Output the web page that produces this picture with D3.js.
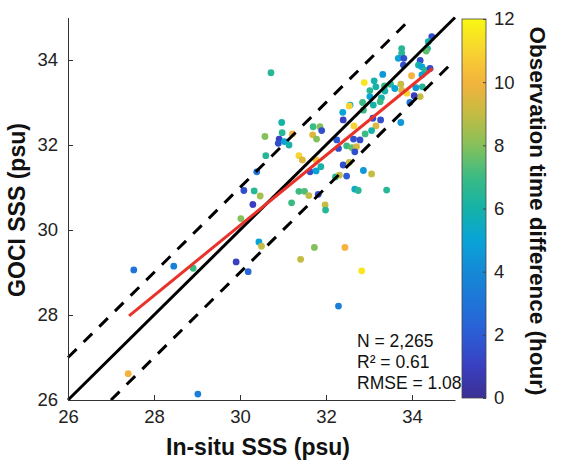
<!DOCTYPE html>
<html>
<head>
<meta charset="utf-8">
<script src="https://cdn.jsdelivr.net/npm/d3@7"></script>
<style>
  html, body { margin: 0; padding: 0; background: #fff; }
  svg { display: block; }
</style>
</head>
<body>
<svg id="chart" width="568" height="468"></svg>
<script>
// ---------------- DATA ----------------
const insituSSS = [27.53,28.46,28.91,29.91,30.19,30.30,30.02,27.40,29.02,30.44,30.50,30.09,30.33,30.47,31.73,32.44,31.41,32.83,32.29,30.60,
  30.39,31.20,31.37,31.50,31.60,31.82,31.98,31.99,31.37,31.45,31.77,31.63,31.77,31.88,32.22,32.31,32.40,30.72,30.97,30.58,
  30.98,30.91,30.89,31.03,31.14,31.22,31.70,31.86,31.90,31.69,31.78,32.39,32.40,32.25,32.29,34.46,34.38,34.36,34.33,33.76,
  33.76,33.68,33.81,33.80,34.19,34.15,34.23,34.30,34.42,34.23,33.99,33.32,32.89,33.12,33.16,33.36,33.50,33.74,33.76,33.60,
  34.09,34.24,34.19,34.05,33.88,33.95,33.37,33.02,33.02,33.29,33.10,33.26,32.85,32.56,32.54,32.87,32.65,33.09,33.16,33.27,
  33.06,32.91,33.74,32.64,32.79,32.48,32.60,32.71,32.67,32.54,32.48,32.87,33.06,32.67,32.75,33.41];
const gociSSS = [29.06,29.15,29.10,29.25,29.02,30.60,30.27,26.62,26.14,29.72,29.62,30.93,30.92,30.80,29.59,29.59,29.31,29.04,28.21,31.75,
  31.37,30.64,30.91,30.91,30.81,30.84,30.59,30.47,31.75,31.65,31.65,31.37,31.39,31.49,31.25,31.29,31.53,33.70,32.53,32.20,
  32.29,32.14,32.04,32.08,32.00,32.26,32.43,32.43,32.34,32.24,32.14,32.77,32.59,32.12,31.92,34.55,34.43,34.27,34.21,34.27,
  34.16,34.04,34.04,33.88,33.99,33.88,33.84,33.76,33.80,33.65,33.63,33.66,33.47,33.51,33.37,33.39,33.43,33.43,33.29,33.33,
  33.35,33.37,33.14,33.16,33.22,33.00,33.27,33.14,33.28,33.11,32.94,33.02,33.00,32.94,32.92,32.82,32.45,32.63,32.45,32.59,
  32.34,32.26,32.53,32.14,32.12,31.98,31.94,31.96,31.84,31.59,31.27,31.40,31.32,30.96,30.93,30.94];
const timeDiff = [3,3.5,7,1,2.5,1,8,10,3.5,5,9,1.5,6.5,8.5,8,10,9,11.5,3.5,6.5,
  3,7,7,7.3,9,1.5,9,6.5,11,9.5,10.5,1.5,5,6,6.5,9,1.5,6.5,6,8,
  6.5,1,1.5,5,6,10,7,8,1.5,9.5,8,5,1,2,1.5,1.5,6,6.5,7.5,6.5,
  6.5,5,1.5,1.5,1.5,6,5,6.5,1.5,5,10,4.5,11.5,6,6,7,6.5,9,9.5,5,
  4.5,6.5,9,1,11,3,6,5,6.5,6,6,7,7,5,11,7,11,1.5,9.5,1.5,
  6,7,4.5,1.5,1.5,7,7.5,9.5,1.5,9,2,4.5,9,5.5,6.5,6.5];

const axisDomain = [26, 35];
const axisTicks = [26, 28, 30, 32, 34];
const lineOffsets = [-1, 1];              // dashed ±1 psu lines
const regX = [27.42, 34.48];             // regression line ends
const regY = [27.98, 33.80];
const cbarDomain = [0, 12];
const cbarTicks = [0, 2, 4, 6, 8, 10, 12];
// parula-like colormap anchors, one per hour 0..12
const parulaColors = ["#3b2f93","#3a3fc0","#2c5cd6","#1f74d8","#1589d6","#08a4d8","#15b2a8",
                      "#3bbb84","#86c05a","#c4bc43","#f5b23c","#f7d431","#f8f811"];
const statsLines = ["N = 2,265", "R\u00B2 = 0.61", "RMSE = 1.08"];
const xLabel = "In-situ SSS (psu)";
const yLabel = "GOCI SSS (psu)";
const cbarLabel = "Observation time difference (hour)";

// ---------------- LAYOUT ----------------
const svg = d3.select("#chart");
const plot = {left: 68, right: 455, top: 17.5, bottom: 400};
const x = d3.scaleLinear().domain(axisDomain).range([plot.left, plot.right]);
const y = d3.scaleLinear().domain(axisDomain).range([plot.bottom, plot.top]);
const color = d3.scaleLinear()
  .domain(d3.range(parulaColors.length).map(i => cbarDomain[0] + i * (cbarDomain[1] - cbarDomain[0]) / (parulaColors.length - 1)))
  .range(parulaColors).clamp(true);

const axisColor = "#333";
const tickFont = "'Liberation Sans', Arial, sans-serif";

// points
const pts = insituSSS.map((v, i) => ({x: v, y: gociSSS[i], t: timeDiff[i]}));
svg.append("g").selectAll("circle").data(pts).join("circle")
  .attr("cx", d => x(d.x)).attr("cy", d => y(d.y)).attr("r", 3.4)
  .attr("fill", d => color(d.t));

// dashed lines
lineOffsets.forEach(o => {
  const x0 = Math.max(axisDomain[0], axisDomain[0] - o), x1 = Math.min(axisDomain[1], axisDomain[1] - o);
  svg.append("line")
    .attr("x1", x(x0)).attr("y1", y(x0 + o)).attr("x2", x(x1)).attr("y2", y(x1 + o))
    .attr("stroke", "#000").attr("stroke-width", 3).attr("stroke-dasharray", "12,10");
});
// 1:1 line
svg.append("line")
  .attr("x1", x(axisDomain[0])).attr("y1", y(axisDomain[0]))
  .attr("x2", x(axisDomain[1])).attr("y2", y(axisDomain[1]))
  .attr("stroke", "#000").attr("stroke-width", 3);
// regression line
svg.append("line")
  .attr("x1", x(regX[0])).attr("y1", y(regY[0]))
  .attr("x2", x(regX[1])).attr("y2", y(regY[1]))
  .attr("stroke", "#e8322a").attr("stroke-width", 3);

// axes
const xAxis = svg.append("g").attr("transform", `translate(0,${plot.bottom})`)
  .call(d3.axisBottom(x).tickValues(axisTicks).tickSize(-5).tickPadding(10).tickSizeOuter(0));
const yAxis = svg.append("g").attr("transform", `translate(${plot.left},0)`)
  .call(d3.axisLeft(y).tickValues(axisTicks).tickSize(-5).tickPadding(10).tickSizeOuter(0));
[xAxis, yAxis].forEach(g => {
  g.select(".domain").attr("stroke", axisColor).attr("stroke-width", 1);
  g.selectAll(".tick line").attr("stroke", axisColor);
  g.selectAll(".tick text").attr("font-family", tickFont).attr("font-size", 18.5).attr("fill", "#222");
});

// axis titles
svg.append("text").attr("x", 258).attr("y", 455).attr("text-anchor", "middle")
  .attr("font-family", tickFont).attr("font-weight", "bold").attr("font-size", 23).attr("fill", "#111")
  .text(xLabel);
svg.append("text").attr("transform", "translate(25,210) rotate(-90)").attr("text-anchor", "middle")
  .attr("font-family", tickFont).attr("font-weight", "bold").attr("font-size", 23).attr("fill", "#111")
  .text(yLabel);

// stats text
svg.append("g").selectAll("text").data(statsLines).join("text")
  .attr("x", 357).attr("y", (d, i) => 347 + i * 21)
  .attr("font-family", tickFont).attr("font-size", 17.5).attr("fill", "#111")
  .text(d => d);

// colorbar
const cb = {left: 462, right: 486, top: 19, bottom: 398};
const cy = d3.scaleLinear().domain(cbarDomain).range([cb.bottom, cb.top]);
const defs = svg.append("defs");
const grad = defs.append("linearGradient").attr("id", "parula")
  .attr("x1", 0).attr("y1", 1).attr("x2", 0).attr("y2", 0);
d3.range(0, 1.0001, 0.025).forEach(f => {
  grad.append("stop").attr("offset", f).attr("stop-color", color(cbarDomain[0] + f * (cbarDomain[1] - cbarDomain[0])));
});
svg.append("rect").attr("x", cb.left).attr("y", cb.top)
  .attr("width", cb.right - cb.left).attr("height", cb.bottom - cb.top)
  .attr("fill", "url(#parula)").attr("stroke", "#444").attr("stroke-width", 0.8);
const cAxis = svg.append("g").attr("transform", `translate(${cb.right},0)`)
  .call(d3.axisRight(cy).tickValues(cbarTicks).tickSize(-3).tickPadding(8).tickSizeOuter(0));
cAxis.select(".domain").remove();
cAxis.selectAll(".tick line").attr("stroke", "#444");
cAxis.selectAll(".tick text").attr("font-family", tickFont).attr("font-size", 18.5).attr("fill", "#222");

svg.append("text").attr("transform", "translate(530,211) rotate(90)").attr("text-anchor", "middle")
  .attr("font-family", tickFont).attr("font-weight", "bold").attr("font-size", 22.5).attr("fill", "#111")
  .text(cbarLabel);
</script>
</body>
</html>
